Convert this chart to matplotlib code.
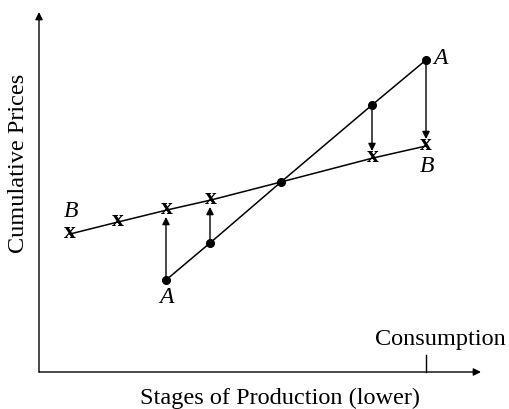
import matplotlib.pyplot as plt

# stages along the horizontal axis, cumulative prices along the vertical
stages_a = [127, 171, 242, 333, 387]
prices_a = [92, 129, 190, 267, 312]

stages_b = [31, 79, 128, 172, 242, 334, 387]
prices_b = [138, 150, 162, 172, 190, 214, 226]

# arrows go from the A price to the B price at the same stage
arrow_idx_a = [0, 1, 3, 4]
arrow_idx_b = [2, 3, 5, 6]

consumption_stage = 387
x_end, y_end = 442, 360

SERIF = 'Liberation Serif'

fig = plt.figure(figsize=(5.09, 4.09), dpi=100)
ax = fig.add_axes([0, 0, 1, 1])
ax.set_xlim(-39, 470)
ax.set_ylim(-37, 372)
ax.axis('off')

head = dict(arrowstyle='-|>', color='black', lw=1, mutation_scale=11)

# axes with arrow heads
ax.annotate('', xy=(x_end, 0), xytext=(0, 0),
            arrowprops=dict(head, shrinkA=0, shrinkB=0))
ax.annotate('', xy=(0, y_end), xytext=(0, 0),
            arrowprops=dict(head, shrinkA=0, shrinkB=0))
ax.plot([consumption_stage, consumption_stage], [0, 17], color='black', lw=1)

# the two price lines
ax.plot(stages_a, prices_a, color='black', lw=1.1)
ax.plot(stages_b, prices_b, color='black', lw=1.1)
ax.plot(stages_a, prices_a, 'o', color='black', ms=5.5)
for x, y in zip(stages_b, prices_b):
    if x == 242:
        continue
    ax.text(x, y + 1, 'x', fontsize=17, fontweight='bold', family=SERIF,
            ha='center', va='center')

for ia, ib in zip(arrow_idx_a, arrow_idx_b):
    ax.annotate('', xy=(stages_a[ia], prices_b[ib]),
                xytext=(stages_a[ia], prices_a[ia]),
                arrowprops=dict(head, shrinkA=0, shrinkB=5))

# curve labels
ax.text(stages_b[0] + 1, prices_b[0] + 12, 'B', fontsize=17, style='italic',
        family=SERIF, ha='center', va='bottom')
ax.text(stages_b[-1] + 1, prices_b[-1] - 10, 'B', fontsize=17, style='italic',
        family=SERIF, ha='center', va='top')
ax.text(stages_a[0], prices_a[0] - 7, 'A', fontsize=17, style='italic',
        family=SERIF, ha='center', va='top')
ax.text(stages_a[-1] + 7, prices_a[-1] + 1, 'A', fontsize=17, style='italic',
        family=SERIF, ha='left', va='center')

ax.text(consumption_stage + 14, 33, 'Consumption', fontsize=17.5, family=SERIF,
        ha='center', va='center')
ax.text(241, -26, 'Stages of Production (lower)', fontsize=17.5, family=SERIF,
        ha='center', va='center')
ax.text(-20, 209, 'Cumulative Prices', fontsize=17.5, family=SERIF,
        rotation=90, ha='center', va='center')

plt.savefig('out.png', dpi=100)
